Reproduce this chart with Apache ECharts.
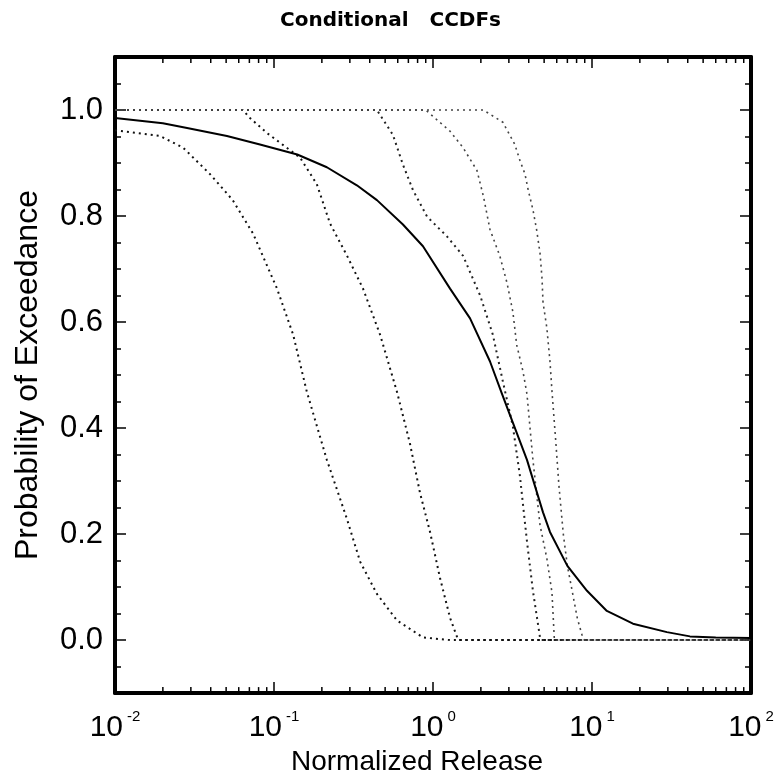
<!DOCTYPE html>
<html>
<head>
<meta charset="utf-8">
<script src="https://cdn.jsdelivr.net/npm/echarts@6/dist/echarts.min.js"></script>
<style>
  html, body { margin: 0; padding: 0; background: #fff; }
  #chart { width: 781px; height: 781px; }
</style>
</head>
<body>
<div id="chart"></div>
<script>
// 数据
const meanX = [0.01, 0.02, 0.0284, 0.0506, 0.0816, 0.14, 0.215, 0.332, 0.444, 0.647, 0.865, 1.28, 1.71, 2.28, 2.72, 3.0, 3.9, 4.92, 5.44, 7.0, 9.3, 12.4, 18.1, 29.6, 41.3, 60, 100];
const meanY = [0.985, 0.975, 0.966, 0.951, 0.935, 0.916, 0.892, 0.858, 0.83, 0.784, 0.743, 0.663, 0.607, 0.526, 0.464, 0.43, 0.34, 0.241, 0.204, 0.14, 0.093, 0.055, 0.031, 0.015, 0.007, 0.005, 0.004];

const c1X = [0.01, 0.0192, 0.0268, 0.0396, 0.055, 0.0738, 0.1045, 0.132, 0.161, 0.215, 0.288, 0.348, 0.444, 0.594, 0.865, 1.28, 100];
const c1Y = [0.962, 0.951, 0.929, 0.879, 0.83, 0.767, 0.663, 0.576, 0.468, 0.34, 0.228, 0.148, 0.087, 0.037, 0.005, 0, 0];

const c2X = [0.01, 0.0638, 0.0706, 0.09, 0.146, 0.186, 0.225, 0.288, 0.363, 0.465, 0.594, 0.716, 0.828, 0.958, 1.107, 1.28, 1.44, 100];
const c2Y = [1.0, 1.0, 0.985, 0.957, 0.91, 0.86, 0.786, 0.725, 0.663, 0.576, 0.468, 0.371, 0.278, 0.204, 0.117, 0.042, 0, 0];

const c3X = [0.01, 0.444, 0.56, 0.647, 0.748, 0.917, 1.22, 1.545, 1.98, 2.38, 2.75, 3.18, 3.52, 3.9, 4.25, 4.71, 4.8, 100];
const c3Y = [1.0, 1.0, 0.953, 0.897, 0.849, 0.799, 0.762, 0.725, 0.65, 0.576, 0.488, 0.403, 0.31, 0.186, 0.093, 0.005, 0, 0];

const c4X = [0.01, 0.9, 1.28, 1.545, 1.89, 2.08, 2.28, 2.63, 2.92, 3.18, 3.36, 3.68, 3.9, 4.25, 4.71, 5.2, 5.6, 5.8, 100];
const c4Y = [1.0, 1.0, 0.96, 0.929, 0.886, 0.836, 0.775, 0.725, 0.674, 0.619, 0.557, 0.507, 0.464, 0.34, 0.217, 0.154, 0.09, 0, 0];

const c5X = [0.01, 2.07, 2.75, 3.27, 3.52, 3.79, 3.97, 4.25, 4.48, 4.71, 4.85, 4.92, 5.2, 5.44, 5.6, 5.9, 6.2, 6.6, 7.0, 7.5, 8.1, 8.65, 9.0, 100];
const c5Y = [1.0, 1.0, 0.977, 0.935, 0.905, 0.879, 0.849, 0.812, 0.775, 0.73, 0.682, 0.637, 0.589, 0.526, 0.47, 0.38, 0.29, 0.2, 0.14, 0.093, 0.04, 0.01, 0, 0];

// 刻度
const yLabelValues = [0, 0.2, 0.4, 0.6, 0.8, 1.0];
const xMinorTicks = [0.02, 0.03, 0.04, 0.05, 0.06, 0.07, 0.08, 0.09,
  0.2, 0.3, 0.4, 0.5, 0.6, 0.7, 0.8, 0.9,
  2, 3, 4, 5, 6, 7, 8, 9,
  20, 30, 40, 50, 60, 70, 80, 90];

const zip = (xs, ys) => xs.map((x, i) => [x, ys[i]]);

const chart = echarts.init(document.getElementById('chart'));

const frameLine = { show: true, onZero: false, lineStyle: { color: '#000', width: 4 } };
const font = 'Liberation Sans, Arial, sans-serif';
const tickStyle = { width: 1.5, color: '#000' };

const dotted = (data, width, color) => ({
  type: 'line',
  data: data,
  showSymbol: false,
  lineStyle: { type: [2, 4], width: width, color: color, cap: 'butt' },
  z: 3
});

const option = {
  animation: false,
  backgroundColor: '#fff',
  title: {
    text: 'Conditional   CCDFs',
    left: 'center',
    top: 7,
    padding: [4, 0, 4, 88],
    textStyle: { fontFamily: 'DejaVu Sans, sans-serif', fontWeight: 'bold', fontSize: 20, color: '#000' }
  },
  grid: { left: 115, top: 57, width: 636, height: 646, containLabel: false },
  xAxis: [
    {
      type: 'log', logBase: 10, min: 0.01, max: 100, position: 'bottom',
      axisLine: frameLine,
      axisTick: { inside: true, length: 11, lineStyle: tickStyle },
      splitLine: { show: false },
      axisLabel: {
        margin: 16,
        formatter: (v) => '{b|10}{s|' + Math.round(Math.log10(v)) + '}',
        rich: {
          b: { fontFamily: font, fontSize: 30, color: '#000', verticalAlign: 'bottom', lineHeight: 34 },
          s: { fontFamily: font, fontSize: 15, color: '#000', verticalAlign: 'top', lineHeight: 34, padding: [0, 0, 0, 4] }
        }
      },
      name: 'Normalized Release',
      nameLocation: 'middle',
      nameGap: 50,
      nameTextStyle: { fontFamily: font, fontSize: 28, color: '#000', padding: [0, 32, 0, 0] }
    },
    {
      type: 'log', logBase: 10, min: 0.01, max: 100, position: 'top',
      axisLine: frameLine,
      axisTick: { inside: true, length: 11, lineStyle: tickStyle },
      axisLabel: { show: false },
      splitLine: { show: false }
    }
  ],
  yAxis: [
    {
      type: 'value', min: -0.1, max: 1.1, interval: 0.05, position: 'left',
      axisLine: frameLine,
      axisTick: { inside: true, length: 6, lineStyle: tickStyle },
      splitLine: { show: false },
      axisLabel: {
        customValues: yLabelValues,
        margin: 12,
        formatter: (v) => v.toFixed(1),
        fontFamily: font, fontSize: 31, color: '#000'
      },
      name: 'Probability of Exceedance',
      nameLocation: 'middle',
      nameGap: 71,
      nameTextStyle: { fontFamily: font, fontSize: 32, color: '#000' }
    },
    {
      type: 'value', min: -0.1, max: 1.1, interval: 0.05, position: 'right',
      axisLine: frameLine,
      axisTick: { inside: true, length: 6, lineStyle: tickStyle },
      axisLabel: { show: false },
      splitLine: { show: false }
    },
    {
      type: 'value', min: -0.1, max: 1.1, position: 'left',
      axisLine: { show: false },
      axisTick: { inside: true, length: 11, customValues: yLabelValues, lineStyle: tickStyle },
      axisLabel: { show: false },
      splitLine: { show: false }
    },
    {
      type: 'value', min: -0.1, max: 1.1, position: 'right',
      axisLine: { show: false },
      axisTick: { inside: true, length: 11, customValues: yLabelValues, lineStyle: tickStyle },
      axisLabel: { show: false },
      splitLine: { show: false }
    }
  ],
  series: [
    dotted(zip(c1X, c1Y), 2, '#111'),
    dotted(zip(c2X, c2Y), 2, '#111'),
    dotted(zip(c3X, c3Y), 2, '#222'),
    dotted(zip(c4X, c4Y), 1.6, '#444'),
    dotted(zip(c5X, c5Y), 1.6, '#444'),
    {
      type: 'line',
      data: zip(meanX, meanY),
      showSymbol: false,
      lineStyle: { type: 'solid', width: 2, color: '#000' },
      z: 4
    },
    {
      // x 轴次刻度（上下两侧）
      type: 'custom',
      data: xMinorTicks.map((v) => [v, 0]),
      renderItem: (params, api) => {
        const v = api.value(0);
        const b = api.coord([v, -0.1]);
        const t = api.coord([v, 1.1]);
        const st = { stroke: '#000', lineWidth: 1.5 };
        return {
          type: 'group',
          children: [
            { type: 'line', shape: { x1: b[0], y1: b[1], x2: b[0], y2: b[1] - 6 }, style: st },
            { type: 'line', shape: { x1: t[0], y1: t[1], x2: t[0], y2: t[1] + 6 }, style: st }
          ]
        };
      },
      silent: true,
      z: 5
    }
  ]
};

chart.setOption(option);
</script>
</body>
</html>
